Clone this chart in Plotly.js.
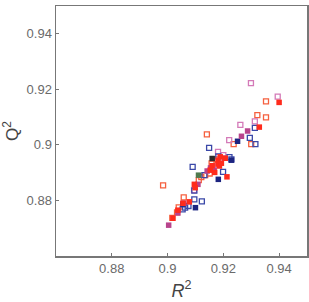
<!DOCTYPE html>
<html>
<head>
<meta charset="utf-8">
<script src="https://cdn.plot.ly/plotly-3.0.1.min.js"></script>
<style>html,body{margin:0;padding:0;background:#fff;}#chart{width:309px;height:302px;}</style>
</head>
<body>
<div id="chart"></div>
<script>
// Series values (R², Q²)
const orangeOpenR = [0.8984,0.9141,0.9353,0.9353,0.9322,0.9237,0.9300,0.9017,0.9040,0.9058,0.9112,0.9135,0.9151,0.9121,0.9176,0.9158,0.9034];
const orangeOpenQ = [0.8854,0.9038,0.9157,0.9099,0.9107,0.9003,0.9003,0.8737,0.8775,0.8811,0.8873,0.8891,0.8897,0.8884,0.8948,0.8933,0.8757];
const pinkOpenR = [0.9299,0.9395,0.9261,0.9313,0.9221,0.9181,0.9200,0.9095,0.9164];
const pinkOpenQ = [0.9222,0.9174,0.9072,0.9085,0.9017,0.8975,0.8963,0.8837,0.8923];
const blueOpenR = [0.9149,0.9090,0.9313,0.9295,0.9315,0.9199,0.9123,0.9075,0.9054,0.9096,0.9229,0.9222,0.9182,0.9096,0.9132,0.9063];
const blueOpenQ = [0.8989,0.8921,0.9061,0.9025,0.9003,0.8903,0.8797,0.8780,0.8768,0.8804,0.8948,0.8956,0.8959,0.8835,0.8891,0.8774];
const navyR = [0.9251,0.9182,0.9100,0.9229,0.9055];
const navyQ = [0.9013,0.8876,0.8774,0.8945,0.8787];
const magentaR = [0.9004,0.9287,0.9265,0.9154,0.9167,0.9058,0.9037,0.9109,0.9204,0.9142];
const magentaQ = [0.8711,0.9050,0.9031,0.8917,0.8909,0.8790,0.8755,0.8858,0.8952,0.8906];
const redR = [0.9400,0.9329,0.9213,0.9181,0.9181,0.9186,0.9169,0.9153,0.9193,0.9207,0.9096,0.9078,0.9055,0.9037,0.9019,0.9160,0.9189,0.9099];
const redQ = [0.9153,0.9064,0.8885,0.8945,0.8931,0.8924,0.8901,0.8909,0.8934,0.8952,0.8858,0.8795,0.8790,0.8765,0.8736,0.8925,0.8957,0.8846];
const blackR = [0.9160];
const blackQ = [0.8951];
const greenR = [0.9111];
const greenQ = [0.8891];
const tickVals = [0.88, 0.9, 0.92, 0.94];
const tickText = ["0.88", "0.9", "0.92", "0.94"];

function openTrace(x, y, color) {
  return {x: x, y: y, type: 'scatter', mode: 'markers', hoverinfo: 'skip',
    marker: {symbol: 'square-open', size: 5, color: color, line: {width: 1.3, color: color}}};
}
function filledTrace(x, y, color) {
  return {x: x, y: y, type: 'scatter', mode: 'markers', hoverinfo: 'skip',
    marker: {symbol: 'square', size: 5.5, color: color, line: {width: 0}}};
}
const data = [
  openTrace(orangeOpenR, orangeOpenQ, '#f5603f'),
  openTrace(pinkOpenR, pinkOpenQ, '#d47ab8'),
  openTrace(blueOpenR, blueOpenQ, '#3a48a8'),
  filledTrace(navyR, navyQ, '#1c2480'),
  filledTrace(magentaR, magentaQ, '#b8448c'),
  filledTrace(redR, redQ, '#ff2b1c'),
  filledTrace(blackR, blackQ, '#2a2a2a'),
  filledTrace(greenR, greenQ, '#4e7a4e')
];
const axisCommon = {
  range: [0.86, 0.95], tickvals: tickVals, ticktext: tickText,
  showline: true, mirror: true, linecolor: '#777', linewidth: 1.5,
  ticks: 'inside', ticklen: 3, tickwidth: 1, tickcolor: '#777',
  showgrid: false, zeroline: false,
  tickfont: {family: 'Liberation Sans, Arial, sans-serif', size: 13, color: '#6a6a6a'}
};
const layout = {
  width: 309, height: 302,
  margin: {l: 56, r: 2, t: 6, b: 46},
  paper_bgcolor: '#fff', plot_bgcolor: '#fff',
  showlegend: false,
  xaxis: Object.assign({}, axisCommon, {
    title: {text: '<i>R</i><sup>2</sup>', standoff: 9, font: {family: 'Liberation Sans, Arial, sans-serif', size: 18, color: '#444'}}
  }),
  yaxis: Object.assign({}, axisCommon, {
    title: {text: 'Q<sup>2</sup>', standoff: 8, font: {family: 'Liberation Sans, Arial, sans-serif', size: 17, color: '#444'}}
  })
};
Plotly.newPlot('chart', data, layout, {staticPlot: true, displayModeBar: false});
</script>
</body>
</html>
